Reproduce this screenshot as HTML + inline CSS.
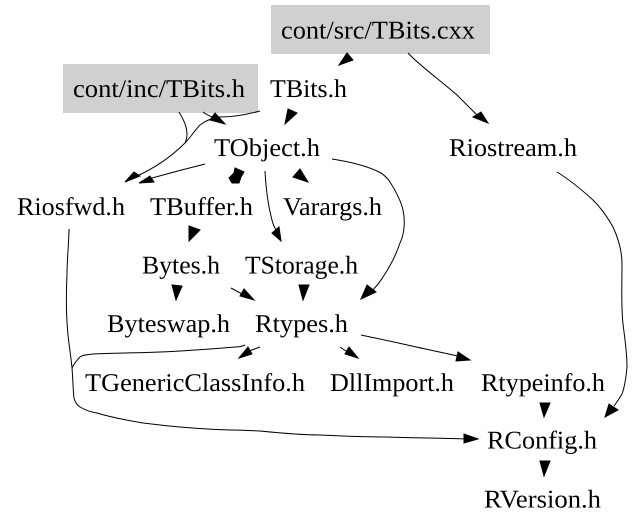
<!DOCTYPE html>
<html><head><meta charset="utf-8"><style>
html,body{margin:0;padding:0;background:#fff}
svg{display:block}
text{font-family:"Liberation Serif",serif;font-size:25.5px;fill:#000;text-rendering:geometricPrecision}
path{fill:none;stroke:#000;stroke-width:1}
polygon{fill:#000;stroke:#000;stroke-width:1}
</style></head><body>
<svg width="640" height="528" viewBox="0 0 640 528" xmlns="http://www.w3.org/2000/svg">
<rect x="271" y="5" width="219" height="49" fill="#d0d0d0"/>
<rect x="63" y="64" width="195" height="49" fill="#d0d0d0"/>
<text x="281" y="38.5" textLength="194" lengthAdjust="spacingAndGlyphs">cont/src/TBits.cxx</text>
<text x="73" y="97" textLength="172" lengthAdjust="spacingAndGlyphs">cont/inc/TBits.h</text>
<text x="270" y="97" textLength="77" lengthAdjust="spacingAndGlyphs">TBits.h</text>
<text x="214" y="156" textLength="106" lengthAdjust="spacingAndGlyphs">TObject.h</text>
<text x="449" y="156" textLength="128" lengthAdjust="spacingAndGlyphs">Riostream.h</text>
<text x="17" y="215" textLength="108" lengthAdjust="spacingAndGlyphs">Riosfwd.h</text>
<text x="150" y="215" textLength="103" lengthAdjust="spacingAndGlyphs">TBuffer.h</text>
<text x="283" y="215" textLength="99" lengthAdjust="spacingAndGlyphs">Varargs.h</text>
<text x="142" y="273.5" textLength="78" lengthAdjust="spacingAndGlyphs">Bytes.h</text>
<text x="245" y="273.5" textLength="113" lengthAdjust="spacingAndGlyphs">TStorage.h</text>
<text x="107" y="332" textLength="123" lengthAdjust="spacingAndGlyphs">Byteswap.h</text>
<text x="255" y="332" textLength="93" lengthAdjust="spacingAndGlyphs">Rtypes.h</text>
<text x="85" y="391" textLength="220" lengthAdjust="spacingAndGlyphs">TGenericClassInfo.h</text>
<text x="330" y="391" textLength="124" lengthAdjust="spacingAndGlyphs">DllImport.h</text>
<text x="481" y="391" textLength="124" lengthAdjust="spacingAndGlyphs">Rtypeinfo.h</text>
<text x="487" y="448.5" textLength="110" lengthAdjust="spacingAndGlyphs">RConfig.h</text>
<text x="484" y="507.5" textLength="117" lengthAdjust="spacingAndGlyphs">RVersion.h</text>

<path d="M408 53C420 66 440 80 457 95C464 102 470 108 477 115"/>
<polygon points="488,123 473,117 481,112"/>
<polygon points="339,65 347,53 353,60"/>
<polygon points="285,124 288,109 297,113"/>
<path d="M260 111C245 115 232 117 220 117C212 118 205 121 200 125C195 130 190 138 185 143C172 156 155 168 135 177"/>
<polygon points="125,182 134,172 140,176"/>
<path d="M179 112C184 120 187 127 187 134C187 138 186 141 185 143"/>
<path d="M203 112C207 115 210 116 214 118"/>
<polygon points="225,124 215,113 210,120"/>
<polygon points="229,178 234,173 235,168 244,172 241,177 239,183 232,183"/>
<path d="M205 164C185 169 170 173 152 178"/>
<polygon points="139,183 150,176 154,182"/>
<polygon points="308,182 293,177 300,169"/>
<path d="M265 171C266 190 268 205 272 220C273 225 275 228 276 230"/>
<polygon points="281,241 272,233 279,227"/>
<path d="M332 159C345 161 365 165 379 172C385 175 388 179 390 182C395 190 401 201 403 210C405 219 405 233 400 243C396 255 389 268 383 277C380 282 375 288 370 293"/>
<polygon points="361,299 367,285 376,292"/>
<polygon points="189,241 189,226 200,230"/>
<polygon points="176,300 172,285 182,286"/>
<path d="M231 288L242 294"/>
<polygon points="254,300 244,289 240,296"/>
<polygon points="303,300 299,285 309,285"/>
<path d="M260 347L249 351"/>
<polygon points="239,358 248,347 252,354"/>
<path d="M245 345C241 347 238 347 235 347C210 349 185 351 160 352C135 353 110 353 93 354C86 355 82 355 80 357C77 360 74 364 72 368"/>
<path d="M69 229C69 240 67 260 67 274C66 295 66 315 68 335C69 345 71 357 72 368C73 380 73 390 74 398C75 402 77 405 80 407C85 410 90 412 97 413C110 417 125 420 143 423C160 425 175 427 193 428C215 430 240 430 260 431C280 433 300 435 320 435C340 436 365 437 387 437C410 438 440 438 467 439"/>
<polygon points="478,439 464,434 464,443"/>
<path d="M340 347L349 353"/>
<polygon points="358,358 349,347 345,354"/>
<path d="M361 335C375 338 390 341 403 344C420 348 440 352 458 356"/>
<polygon points="470,360 458,352 456,361"/>
<polygon points="544,417 540,403 550,403"/>
<polygon points="544,476 540,461 550,461"/>
<path d="M557 172C570 180 582 190 593 200C602 209 608 218 613 227C619 240 622 252 622 264C622 285 621 305 623 324C625 340 627 352 627 367C626 378 625 386 622 394C619 399 617 402 614 406"/>
<polygon points="605,417 609,404 618,410"/>
</svg>
</body></html>
